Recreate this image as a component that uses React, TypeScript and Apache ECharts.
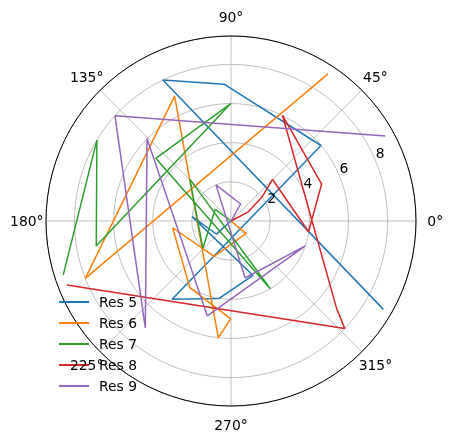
import React, { useEffect, useRef } from 'react';
import * as echarts from 'echarts';

const RADII = [0, 1, 2, 3, 4, 5, 6, 7, 8, 9];
const RES5 = [0, 221.6, 173.6, 292, 261.3, 233, 40, 92.9, 115.8, 329.9];
const RES6 = [0, 320.6, 244.5, 186.6, 238.3, 269.8, 263.8, 114.3, 201.5, 56.6];
const RES7 = [0, 143.8, 224, 134.5, 300.1, 140.2, 90.1, 190.5, 148.9, 197.8];
const RES8 = [70, 28, 37.7, 45, 352.1, 22.2, 64, 320.4, 316.6, 201.3];
const RES9 = [0, 60.3, 112.6, 283.9, 341.5, 256, 135.6, 231.3, 137.8, 28.8];
const NAMES = ['Res 5', 'Res 6', 'Res 7', 'Res 8', 'Res 9'];
const COLORS = ['#1f77b4', '#ff7f0e', '#2ca02c', '#d62728', '#9467bd'];
const R_TICKS = [2, 4, 6, 8];
const ANGLE_TICKS = [0, 45, 90, 135, 180, 225, 270, 315];
const R_MAX = 9.45;
const LABEL_ANGLE = 22.5;
const ANGLE_LABEL_R = 10.43;

export default function App() {
  const ref = useRef<HTMLDivElement>(null);
  useEffect(() => {
    const chart = echarts.init(ref.current!, null, { renderer: 'svg' });
    const font = 'DejaVu Sans';
    const grid = { color: '#b0b0b0', width: 0.8 };
    const all = [RES5, RES6, RES7, RES8, RES9];
    chart.setOption({
      animation: false,
      textStyle: { fontFamily: font },
      polar: { center: [231, 221], radius: 185 },
      angleAxis: {
        type: 'value', min: 0, max: 360, interval: 45, startAngle: 0, clockwise: false,
        axisLine: { lineStyle: { color: '#000', width: 1 } },
        axisTick: { show: false },
        axisLabel: { show: false },
        splitLine: { show: true, lineStyle: grid },
      },
      radiusAxis: {
        type: 'value', min: 0, max: R_MAX, interval: 2,
        axisLine: { show: false }, axisTick: { show: false }, axisLabel: { show: false },
        splitLine: { show: true, lineStyle: grid },
      },
      legend: {
        orient: 'vertical', left: 58, top: 295, padding: 0, itemWidth: 30, itemHeight: 14, itemGap: 7,
        itemStyle: { opacity: 0 },
        textStyle: { fontSize: 13.9, color: '#000', fontFamily: font, padding: [0, 0, 0, 5] },
        data: NAMES,
      },
      series: all.map((angles, i) => ({
        name: NAMES[i], type: 'line', coordinateSystem: 'polar', symbol: 'none',
        lineStyle: { color: COLORS[i], width: 1.5 }, itemStyle: { color: COLORS[i] },
        data: RADII.map((r, j) => [r, angles[j]]),
      })),
    });
    const textStyle = { fontSize: 13.9, fontFamily: font, fill: '#000', align: 'center', verticalAlign: 'middle' };
    const rLabels = R_TICKS.map((r) => {
      const p = chart.convertToPixel({ seriesIndex: 0 }, [r, LABEL_ANGLE]) as number[];
      return { type: 'text', x: p[0] + 4.5, y: p[1] - 7.7, style: { ...textStyle, text: String(r) }, z: 5 };
    });
    const aLabels = ANGLE_TICKS.map((a) => {
      const p = chart.convertToPixel({ seriesIndex: 0 }, [ANGLE_LABEL_R, a]) as number[];
      return { type: 'text', x: p[0], y: p[1], style: { ...textStyle, text: a + '°' }, z: 5 };
    });
    chart.setOption({ graphic: [...rLabels, ...aLabels] });
    return () => chart.dispose();
  }, []);
  return <div ref={ref} style={{ position: 'fixed', left: 0, top: 0, width: 453, height: 442 }} />;
}
